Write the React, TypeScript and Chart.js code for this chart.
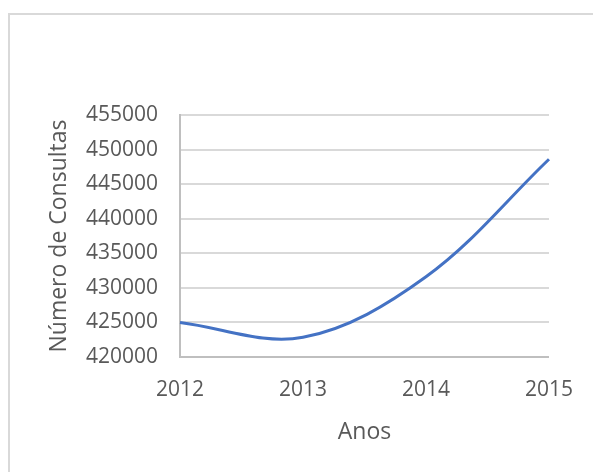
import React, { useEffect, useRef } from "react";
import { Chart, registerables } from "chart.js";

Chart.register(...registerables);

const categories = ["2012", "2013", "2014", "2015"];
const consultas = [425000, 422850, 431600, 448600];
const yMin = 420000;
const yMax = 455000;
const yStep = 5000;
const xTitle = "Anos";
const yTitle = "Número de Consultas";

const framePlugin = {
  id: "frame",
  beforeDraw(chart: any) {
    const { ctx, width, height } = chart;
    ctx.save();
    ctx.fillStyle = "#ffffff";
    ctx.fillRect(0, 0, width, height);
    ctx.strokeStyle = "#d9d9d9";
    ctx.lineWidth = 2;
    ctx.beginPath();
    ctx.moveTo(9, height);
    ctx.lineTo(9, 14);
    ctx.lineTo(width, 14);
    ctx.stroke();
    ctx.restore();
  },
};

export default function App() {
  const ref = useRef<HTMLCanvasElement>(null);
  useEffect(() => {
    if (!ref.current) return;
    const chart = new Chart(ref.current, {
      type: "line",
      data: {
        labels: categories,
        datasets: [
          {
            data: consultas,
            borderColor: "#4472C4",
            borderWidth: 3,
            pointRadius: 0,
            tension: 0.35,
            fill: false,
          },
        ],
      },
      options: {
        animation: false,
        responsive: false,
        maintainAspectRatio: false,
        layout: { padding: { left: 0, top: 115, right: 42, bottom: 26 } },
        plugins: { legend: { display: false }, tooltip: { enabled: false } },
        scales: {
          x: {
            grid: { display: false, drawTicks: false },
            border: { display: true, color: "#bfbfbf", width: 2 },
            ticks: {
              color: "#595959",
              font: { family: "'Open Sans'", size: 21 },
              padding: 20,
              maxRotation: 0,
            },
            title: {
              display: true,
              text: xTitle,
              color: "#595959",
              font: { family: "'Open Sans'", size: 23, weight: "normal" },
              padding: { top: 0, bottom: 0 },
            },
            afterFit(scale: any) {
              scale.height = 89;
            },
          },
          y: {
            min: yMin,
            max: yMax,
            grid: { color: "#d9d9d9", lineWidth: 2, drawTicks: false },
            border: { display: true, color: "#bfbfbf", width: 2 },
            ticks: {
              stepSize: yStep,
              color: "#595959",
              font: { family: "'Open Sans'", size: 21 },
              padding: 22,
              callback: (v: any) => String(v),
            },
            title: {
              display: true,
              text: yTitle,
              color: "#595959",
              font: { family: "'Open Sans'", size: 23, weight: "normal" },
              padding: { top: 46, bottom: 0 },
            },
            afterFit(scale: any) {
              scale.width = 180;
            },
          },
        },
      },
      plugins: [framePlugin],
    });
    return () => chart.destroy();
  }, []);
  return (
    <div style={{ position: "fixed", left: 0, top: 0, width: 593, height: 472, background: "#fff" }}>
      <canvas ref={ref} width={593} height={472} style={{ width: 593, height: 472, display: "block" }} />
    </div>
  );
}
